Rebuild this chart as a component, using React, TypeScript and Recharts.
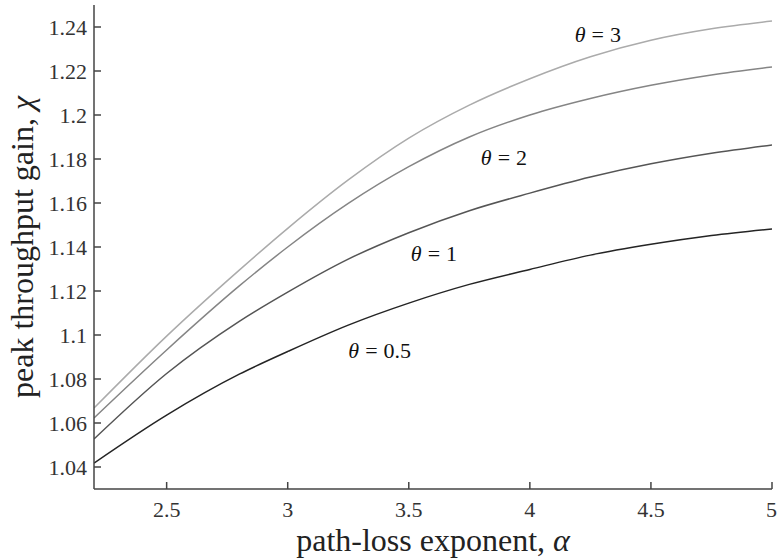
import React from 'react';
import { LineChart, Line, XAxis, YAxis, ReferenceDot } from 'recharts';

const alpha = [2.2, 2.5, 2.8, 3.0, 3.25, 3.5, 3.75, 4.0, 4.25, 4.5, 4.75, 5.0];

const theta05 = [1.0418, 1.0636, 1.0822, 1.0925, 1.1045, 1.1145, 1.123, 1.1298, 1.1363, 1.1412, 1.1452, 1.1482];
const theta1 = [1.0527, 1.0825, 1.1062, 1.1195, 1.1345, 1.1465, 1.1565, 1.1645, 1.1718, 1.1778, 1.1826, 1.1864];
const theta2 = [1.0623, 1.0932, 1.1223, 1.14, 1.1598, 1.1765, 1.19, 1.2, 1.2075, 1.2135, 1.2182, 1.2218];
const theta3 = [1.0668, 1.0995, 1.1295, 1.1485, 1.1705, 1.1895, 1.2045, 1.2165, 1.2265, 1.234, 1.2392, 1.2427];

const xTicks = [2.5, 3, 3.5, 4, 4.5, 5];
const yTicks = [1.04, 1.06, 1.08, 1.1, 1.12, 1.14, 1.16, 1.18, 1.2, 1.22, 1.24];

// where the theta = ... annotations sit, in data units
const annotations = [
    { text: '0.5', a: 3.38, v: 1.0932 },
    { text: '1', a: 3.604, v: 1.1373 },
    { text: '2', a: 3.893, v: 1.1809 },
    { text: '3', a: 4.281, v: 1.2368 },
];

const data = alpha.map((a, i) => ({
    alpha: a,
    t05: theta05[i],
    t1: theta1[i],
    t2: theta2[i],
    t3: theta3[i],
}));

const FONT = '"Liberation Serif", "DejaVu Serif", serif';
const AXIS = '#444';

const XTitle = ({ viewBox }: any) => (
    <text
        x={viewBox.x + viewBox.width / 2}
        y={viewBox.y + 62}
        textAnchor="middle"
        style={{ fontFamily: FONT }}
        fontSize={32}
        fill="#222"
    >
        path-loss exponent, <tspan fontStyle="italic">α</tspan>
    </text>
);

const YTitle = ({ viewBox }: any) => {
    const x = viewBox.x + 33;
    const y = viewBox.y + viewBox.height / 2;
    return (
        <text
            x={x}
            y={y}
            transform={`rotate(-90 ${x} ${y})`}
            textAnchor="middle"
            style={{ fontFamily: FONT }}
            fontSize={32}
            fill="#222"
        >
            peak throughput gain, <tspan fontStyle="italic">χ</tspan>
        </text>
    );
};

const thetaLabel = (text: string) => (props: any) => (
    <text
        x={props.cx}
        y={props.cy}
        textAnchor="middle"
        dominantBaseline="central"
        style={{ fontFamily: FONT }}
        fontSize={22}
        fill="#111"
    >
        <tspan fontStyle="italic">θ</tspan>
        <tspan dx={6}>=</tspan>
        <tspan dx={6}>{text}</tspan>
    </text>
);

export default function App() {
    return (
        <div style={{ position: 'absolute', left: 0, top: 0, background: '#fff', fontFamily: FONT }}>
            <LineChart
                width={777}
                height={560}
                data={data}
                margin={{ top: 5, right: 5, bottom: 0, left: 0 }}
                style={{ fontFamily: FONT }}
            >
                <XAxis
                    dataKey="alpha"
                    type="number"
                    domain={[2.2, 5]}
                    ticks={xTicks}
                    allowDataOverflow
                    height={71}
                    stroke={AXIS}
                    strokeWidth={1.5}
                    tickSize={-7}
                    tickMargin={19}
                    tick={{ fill: '#333', fontSize: 22, fontFamily: FONT, style: { fontFamily: FONT } }}
                    label={<XTitle />}
                />
                <YAxis
                    type="number"
                    domain={[1.03, 1.25]}
                    ticks={yTicks}
                    allowDataOverflow
                    width={94}
                    stroke={AXIS}
                    strokeWidth={1.5}
                    tickSize={-7}
                    tickMargin={14}
                    tick={{ fill: '#333', fontSize: 22, fontFamily: FONT, style: { fontFamily: FONT } }}
                    label={<YTitle />}
                />
                <Line type="monotone" dataKey="t05" stroke="#242424" strokeWidth={1.5} dot={false} isAnimationActive={false} />
                <Line type="monotone" dataKey="t1" stroke="#555555" strokeWidth={1.5} dot={false} isAnimationActive={false} />
                <Line type="monotone" dataKey="t2" stroke="#858585" strokeWidth={1.5} dot={false} isAnimationActive={false} />
                <Line type="monotone" dataKey="t3" stroke="#ababab" strokeWidth={1.5} dot={false} isAnimationActive={false} />
                {annotations.map((n) => (
                    <ReferenceDot
                        key={n.text}
                        x={n.a}
                        y={n.v}
                        r={0}
                        shape={thetaLabel(n.text)}
                    />
                ))}
            </LineChart>
        </div>
    );
}
